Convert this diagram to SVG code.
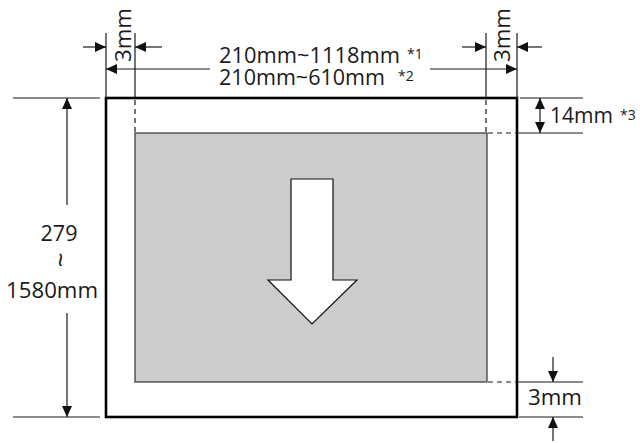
<svg xmlns="http://www.w3.org/2000/svg" width="640" height="443" viewBox="0 0 640 443">
<style>
.t{font-family:"Open Sans","Noto Sans","Liberation Sans",sans-serif;font-size:21.5px;fill:#1a1a1a}
.s{font-family:"Open Sans","Noto Sans","Liberation Sans",sans-serif;font-size:14px;fill:#1a1a1a}
.l{stroke:#1a1a1a;stroke-width:1.2;fill:none}
.d{stroke:#1a1a1a;stroke-width:1.2;fill:none;stroke-dasharray:5,4}
</style>
<defs>
<marker id="ah" markerUnits="userSpaceOnUse" markerWidth="11" markerHeight="10" refX="11" refY="5" orient="auto">
<path d="M0,0 L11,5 L0,10 Z" fill="#111"/>
</marker>
</defs>
<rect width="640" height="443" fill="#fff"/>
<g id="paper">
<rect x="106" y="98" width="411" height="319" fill="#fff" stroke="#000" stroke-width="2.6"/>
</g>
<g id="print-area">
<rect x="135" y="133" width="352" height="249" fill="#cccccc" stroke="#333" stroke-width="1.2"/>
</g>
<g id="feed-arrow">
<polygon points="291,179 333,179 333,280 357,280 312,324 268,280 291,280" fill="#fff" stroke="#111" stroke-width="1.2"/>
</g>
<g id="connectors">
<line class="l" x1="106" y1="33" x2="106" y2="98"/>
<line class="l" x1="135" y1="33" x2="135" y2="98"/>
<line class="d" x1="135" y1="100" x2="135" y2="133"/>
<line class="l" x1="486" y1="33" x2="486" y2="98"/>
<line class="d" x1="486" y1="100" x2="486" y2="133"/>
<line class="l" x1="517" y1="33" x2="517" y2="98"/>
<line class="l" x1="83" y1="47" x2="106" y2="47" marker-end="url(#ah)"/>
<line class="l" x1="162" y1="47" x2="135" y2="47" marker-end="url(#ah)"/>
<line class="l" x1="210" y1="69" x2="106" y2="69" marker-end="url(#ah)"/>
<line class="l" x1="462" y1="47" x2="486" y2="47" marker-end="url(#ah)"/>
<line class="l" x1="542" y1="47" x2="517" y2="47" marker-end="url(#ah)"/>
<line class="l" x1="430" y1="69" x2="517" y2="69" marker-end="url(#ah)"/>
<line class="l" x1="520" y1="98" x2="583" y2="98"/>
<line class="d" x1="488" y1="133" x2="517" y2="133"/>
<line class="l" x1="517" y1="133" x2="583" y2="133"/>
<line class="l" x1="540" y1="115" x2="540" y2="98" marker-end="url(#ah)"/>
<line class="l" x1="540" y1="115" x2="540" y2="133" marker-end="url(#ah)"/>
<line class="d" x1="488" y1="382" x2="517" y2="382"/>
<line class="l" x1="517" y1="382" x2="583" y2="382"/>
<line class="l" x1="519" y1="417" x2="583" y2="417"/>
<line class="l" x1="553" y1="357" x2="553" y2="382" marker-end="url(#ah)"/>
<line class="l" x1="553" y1="441" x2="553" y2="417" marker-end="url(#ah)"/>
<line class="l" x1="13" y1="98" x2="100" y2="98"/>
<line class="l" x1="13" y1="417" x2="100" y2="417"/>
<line class="l" x1="67" y1="205" x2="67" y2="98" marker-end="url(#ah)"/>
<line class="l" x1="67" y1="313" x2="67" y2="417" marker-end="url(#ah)"/>
</g>
<g id="labels">
<text class="t" transform="translate(131,62) rotate(-90)" textLength="54" lengthAdjust="spacingAndGlyphs">3mm</text>
<text class="t" transform="translate(510,62) rotate(-90)" textLength="54" lengthAdjust="spacingAndGlyphs">3mm</text>
<text class="t" x="219" y="63" textLength="181" lengthAdjust="spacingAndGlyphs">210mm~1118mm</text>
<text class="s" x="407" y="59">*1</text>
<text class="t" x="219" y="85" textLength="166" lengthAdjust="spacingAndGlyphs">210mm~610mm</text>
<text class="s" x="398" y="81">*2</text>
<text class="t" x="550" y="123" textLength="63" lengthAdjust="spacingAndGlyphs">14mm</text>
<text class="s" x="620" y="120">*3</text>
<text class="t" x="528" y="405" textLength="54" lengthAdjust="spacingAndGlyphs">3mm</text>
<text class="t" x="59" y="241" text-anchor="middle">279</text>
<text class="t" transform="translate(52,260) rotate(90)" text-anchor="middle" style="font-size:26px">~</text>
<text class="t" x="6" y="298" textLength="92" lengthAdjust="spacingAndGlyphs">1580mm</text>
</g>
</svg>
